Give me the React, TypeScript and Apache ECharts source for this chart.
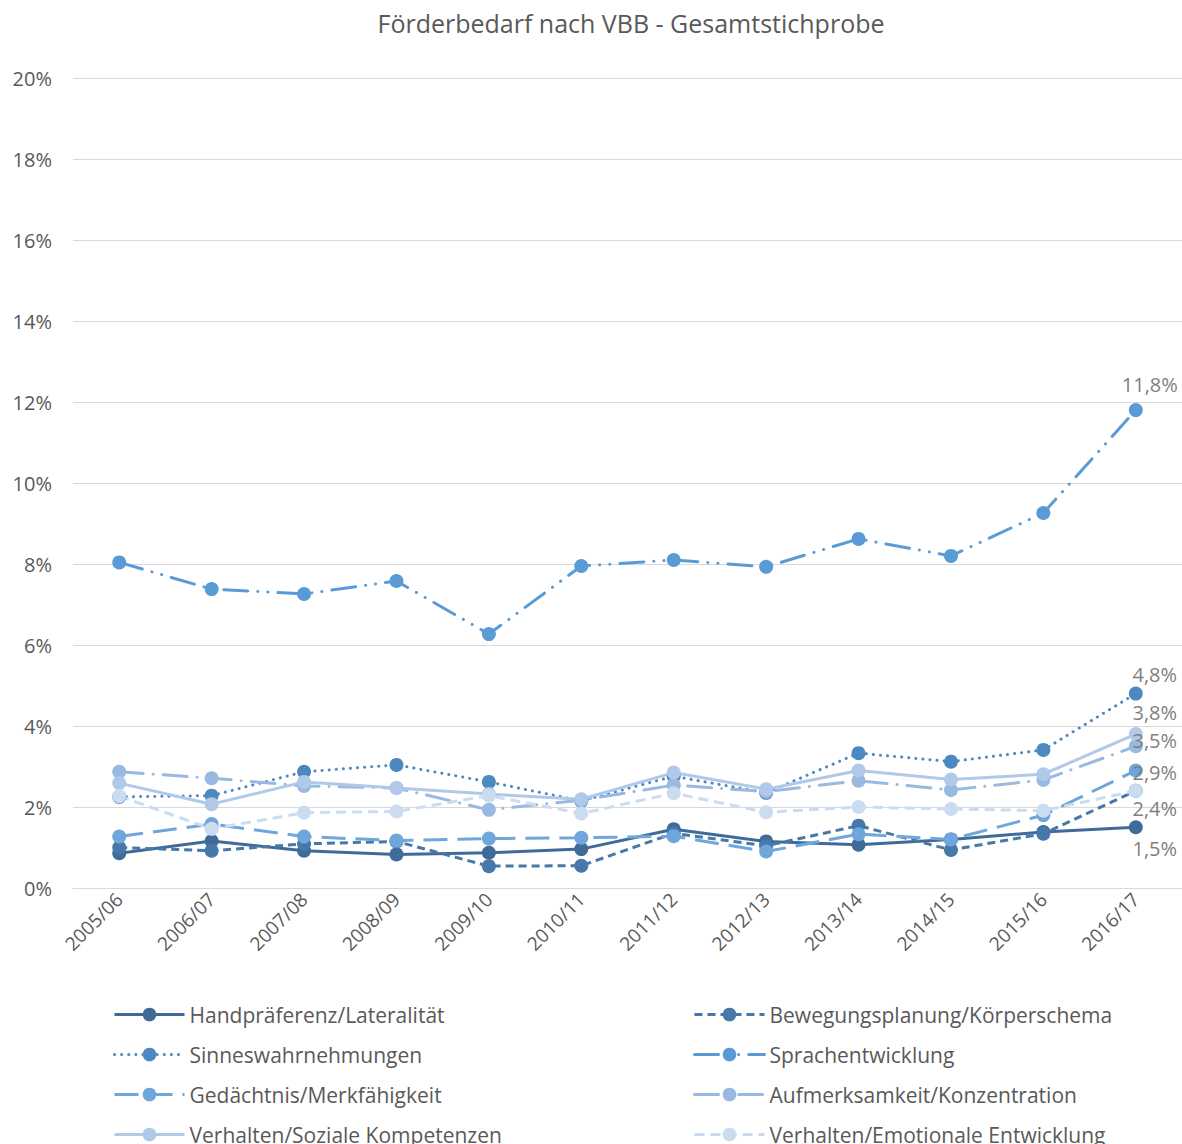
import React, { useEffect, useRef } from "react";
import * as echarts from "echarts";

const categories = ["2005/06", "2006/07", "2007/08", "2008/09", "2009/10", "2010/11", "2011/12", "2012/13", "2013/14", "2014/15", "2015/16", "2016/17"];

const handpraeferenz = [0.86, 1.16, 0.92, 0.83, 0.87, 0.96, 1.45, 1.15, 1.07, 1.2, 1.38, 1.5];
const bewegungsplanung = [1.0, 0.92, 1.09, 1.15, 0.54, 0.55, 1.35, 1.04, 1.54, 0.94, 1.34, 2.4];
const sinneswahrnehmungen = [2.25, 2.28, 2.87, 3.04, 2.62, 2.15, 2.76, 2.35, 3.33, 3.12, 3.41, 4.8];
const sprachentwicklung = [8.04, 7.38, 7.26, 7.58, 6.27, 7.95, 8.1, 7.93, 8.62, 8.2, 9.26, 11.8];
const gedaechtnis = [1.27, 1.58, 1.27, 1.17, 1.22, 1.24, 1.28, 0.9, 1.33, 1.2, 1.8, 2.9];
const aufmerksamkeit = [2.87, 2.71, 2.52, 2.47, 1.93, 2.17, 2.54, 2.38, 2.65, 2.42, 2.67, 3.5];
const sozial = [2.59, 2.07, 2.62, 2.47, 2.32, 2.19, 2.85, 2.44, 2.9, 2.68, 2.81, 3.8];
const emotional = [2.27, 1.46, 1.86, 1.89, 2.28, 1.84, 2.34, 1.87, 2.0, 1.95, 1.91, 2.4];

const yTicks = [0, 2, 4, 6, 8, 10, 12, 14, 16, 18, 20];

const names = [
  "Handpräferenz/Lateralität",
  "Bewegungsplanung/Körperschema",
  "Sinneswahrnehmungen",
  "Sprachentwicklung",
  "Gedächtnis/Merkfähigkeit",
  "Aufmerksamkeit/Konzentration",
  "Verhalten/Soziale Kompetenzen",
  "Verhalten/Emotionale Entwicklung",
];

const FONT = "'Open Sans', sans-serif";

export default function App() {
  const ref = useRef<HTMLDivElement>(null);
  useEffect(() => {
    document.body.style.margin = "0";
    const chart = echarts.init(ref.current!, null, { renderer: "svg" });
    const last = categories.length - 1;
    const fmt = (v: number) => v.toFixed(1).replace(".", ",") + "%";

    const mk = (
      name: string,
      data: number[],
      color: string,
      dash: any,
      labelOffset: number[] | null,
      cap: string = "butt"
    ) => ({
      name,
      type: "line",
      data,
      symbol: "circle",
      symbolSize: 14,
      itemStyle: { color },
      lineStyle: { color, width: 3, type: dash, cap },
      label: labelOffset
        ? {
            show: true,
            position: "inside",
            offset: labelOffset,
            align: "center",
            verticalAlign: "middle",
            color: "#7F7F7F",
            fontSize: 20,
            fontFamily: FONT,
            formatter: (p: any) => (p.dataIndex === last ? fmt(p.value) : ""),
          }
        : { show: false },
      emphasis: { disabled: true },
      z: 2,
    });

    const series = [
      mk(names[0], handpraeferenz, "#3F6B99", "solid", [19, 21]),
      mk(names[1], bewegungsplanung, "#4678AA", [8, 5], null),
      mk(names[2], sinneswahrnehmungen, "#4E88C0", [0.1, 7], [19, -19], "round"),
      mk(names[3], sprachentwicklung, "#5B9BD5", [24, 10, 0.1, 10, 0.1, 10], [14, -26], "round"),
      mk(names[4], gedaechtnis, "#6FA6DC", [24, 10], [19, 2]),
      mk(names[5], aufmerksamkeit, "#98B9E0", [24, 10, 0.1, 10], [19, -6], "round"),
      mk(names[6], sozial, "#B0C9E8", "solid", [19, -22]),
      mk(names[7], emotional, "#CCDCF0", [10, 6], [19, 18]),
    ];

    const legendCommon = {
      orient: "vertical",
      itemWidth: 70,
      itemHeight: 17,
      itemGap: 19,
      padding: 0,
      height: 200,
      lineStyle: { width: 3 },
      textStyle: { color: "#595959", fontSize: 21, fontFamily: FONT, lineHeight: 20 },
    };

    chart.setOption({
      animation: false,
      title: {
        text: "Förderbedarf nach VBB - Gesamtstichprobe",
        left: 626,
        top: 5,
        textAlign: "center",
        textStyle: { color: "#595959", fontSize: 25, fontWeight: "normal", fontFamily: FONT },
      },
      legend: [
        { ...legendCommon, left: 113, top: 1004, data: [names[0], names[2], names[4], names[6]] },
        { ...legendCommon, left: 693, top: 1004, data: [names[1], names[3], names[5], names[7]] },
      ],
      grid: { left: 73, right: 0, top: 78, bottom: 256, containLabel: false },
      xAxis: {
        type: "category",
        data: categories,
        boundaryGap: true,
        axisLine: { lineStyle: { color: "#D9D9D9", width: 1 } },
        axisTick: { show: false },
        axisLabel: {
          rotate: 45,
          margin: 8,
          color: "#595959",
          fontSize: 19,
          fontFamily: FONT,
          interval: 0,
        },
      },
      yAxis: {
        type: "value",
        min: yTicks[0],
        max: yTicks[yTicks.length - 1],
        interval: 2,
        axisLine: { show: false },
        axisTick: { show: false },
        splitLine: { lineStyle: { color: "#D9D9D9", width: 1 } },
        axisLabel: {
          margin: 21,
          color: "#595959",
          fontSize: 20,
          fontFamily: FONT,
          formatter: (v: number) => v + "%",
        },
      },
      series,
    });
    return () => chart.dispose();
  }, []);
  return <div ref={ref} style={{ width: 1182, height: 1144 }} />;
}
